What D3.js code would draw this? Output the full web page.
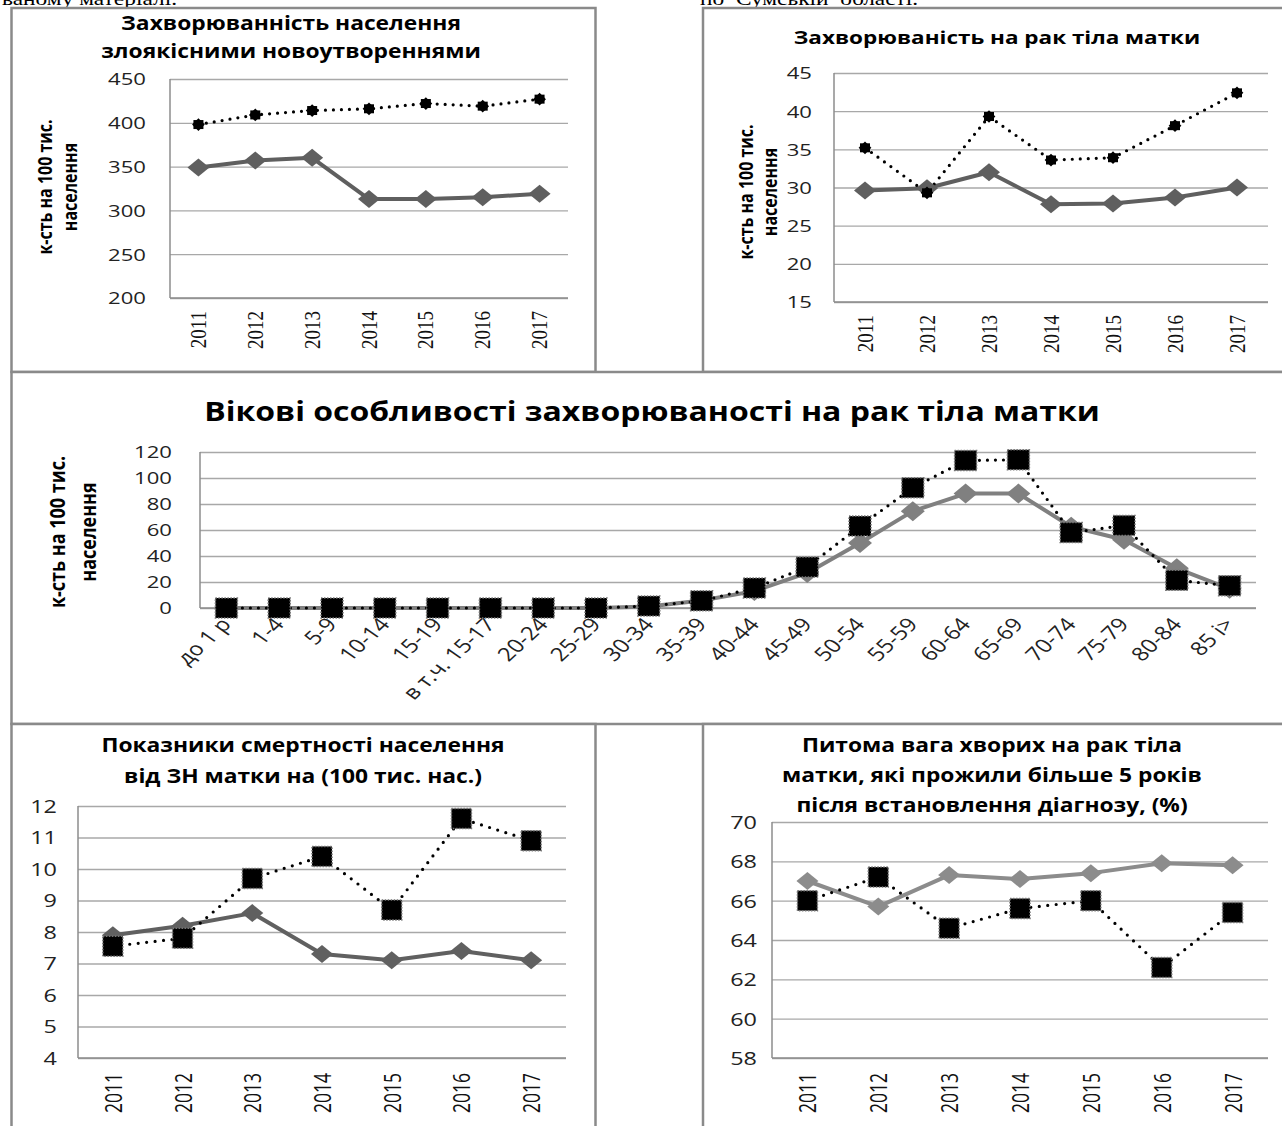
<!DOCTYPE html>
<html><head><meta charset="utf-8">
<script src="https://cdn.jsdelivr.net/npm/d3@7/dist/d3.min.js"></script>
<style>body{margin:0;background:#fff}svg{display:block}</style>
</head><body>
<script>
// ---------- DATA ----------
const years = ["2011","2012","2013","2014","2015","2016","2017"];
const totalIncDotted = [398,409,414,416,422,419,427];
const totalIncSolid  = [349,357,360,313,313,315,319];
const totalTicks = [200,250,300,350,400,450];

const uterusIncDotted = [35.2,29.3,39.3,33.6,33.9,38.1,42.4];
const uterusIncSolid  = [29.6,29.9,32.0,27.8,27.9,28.7,30.0];
const uterusTicks = [15,20,25,30,35,40,45];

const ageGroups = ["до 1 р","1-4","5-9","10-14","15-19","в т.ч. 15-17","20-24","25-29","30-34","35-39","40-44","45-49","50-54","55-59","60-64","65-69","70-74","75-79","80-84","85 і>"];
const ageDotted = [0,0,0,0,0,0,0,0,1.5,5.5,15.4,31.5,63,92.5,113.5,114,58,63.5,21.3,17.2];
const ageSolid  = [0,0,0,0,0,0,0,0,1.2,5.8,13,27,50,74.5,88,88,62.5,52.5,30.5,14.8];
const ageTicks = [0,20,40,60,80,100,120];

const mortDotted = [7.55,7.8,9.7,10.4,8.7,11.6,10.9];
const mortSolid  = [7.9,8.2,8.6,7.3,7.1,7.4,7.1];
const mortTicks = [4,5,6,7,8,9,10,11,12];

const survSolid  = [67.0,65.7,67.3,67.1,67.4,67.9,67.8];
const survDotted = [66.0,67.2,64.6,65.6,66.0,62.6,65.4];
const survTicks = [58,60,62,64,66,68,70];

// ---------- DRAWING ----------
const W = 1282, H = 1126;
const SX = 1.25;
const SANS = "'Open Sans', 'Noto Sans', sans-serif";
const SERIF = "'Liberation Serif', 'Times New Roman', serif";
const svg = d3.select("body").append("svg").attr("width", W).attr("height", H);

function htext(g, x, y, str, o) {
  o = o || {};
  return g.append("text")
    .attr("transform", `translate(${x},${y}) scale(${o.sx || SX},1)` + (o.rot ? ` rotate(${o.rot})` : ""))
    .attr("text-anchor", o.anchor || "middle")
    .attr("dominant-baseline", o.baseline || "alphabetic")
    .attr("font-family", o.family || SANS)
    .attr("font-size", o.size || 16)
    .attr("font-weight", o.weight || "normal")
    .attr("fill", o.fill || "#000")
    .attr("xml:space", "preserve")
    .text(str);
}

// page text fragments above charts (cut by the top edge, as in the source page)
htext(svg, 2, 5, "ваному матеріалі.", {anchor: "start", family: SERIF, size: 18, sx: 1.3});
htext(svg, 700, 5, "по  Сумській  області.", {anchor: "start", family: SERIF, size: 18, sx: 1.3});

function chart(o) {
  const g = svg.append("g");
  g.append("rect").attr("x", o.box[0]).attr("y", o.box[1]).attr("width", o.box[2]).attr("height", o.box[3])
    .attr("fill", "#fff").attr("stroke", "#8a8a8a").attr("stroke-width", 2.5);

  const x = d3.scaleBand().domain(o.cats).range([o.plot.l, o.plot.r]);
  const y = d3.scaleLinear().domain([o.ticks[0], o.ticks[o.ticks.length - 1]]).range([o.plot.b, o.plot.t]);
  const cx = c => x(c) + x.bandwidth() / 2;

  // gridlines
  const ga = g.append("g").attr("transform", `translate(${o.plot.l},0)`)
    .call(d3.axisLeft(y).tickValues(o.ticks).tickSize(-(o.plot.r - o.plot.l)).tickFormat(""));
  ga.select(".domain").remove();
  ga.selectAll("line").attr("stroke", "#a8a8a8").attr("stroke-width", 1.3);

  // axis lines
  g.append("line").attr("x1", o.plot.l).attr("x2", o.plot.l).attr("y1", o.plot.t).attr("y2", o.plot.b)
    .attr("stroke", "#8c8c8c").attr("stroke-width", 1.5);
  g.append("line").attr("x1", o.plot.l).attr("x2", o.plot.r).attr("y1", o.plot.b).attr("y2", o.plot.b)
    .attr("stroke", "#8c8c8c").attr("stroke-width", 1.5);

  // y labels
  o.ticks.forEach(v => htext(g, o.yLabelX, y(v), String(v), {anchor: "end", baseline: "central", size: o.yFont, fill: "#222", sx: o.ySX || 1.3}));

  // x labels
  o.cats.forEach(c => {
    if (o.xRot === -45) {
      htext(g, cx(c) + 6, o.xLabelY, c, {anchor: "end", rot: -49, size: o.xFont, fill: "#222", sx: 1.25});
    } else {
      htext(g, cx(c), o.xLabelY, c, {anchor: "end", baseline: "central", rot: -90, family: o.xFamily, size: o.xFont, fill: "#111", sx: o.xSX});
    }
  });

  // title
  o.title.forEach(t => htext(g, o.titleX, t[1], t[0], {size: o.titleFont, weight: "bold", sx: o.titleSX || SX}));
  // y title
  if (o.yTitle) o.yTitle.forEach(t => htext(g, t[1], o.yTitleY, t[0], {rot: -90, baseline: "central", size: o.yTitleFont, weight: "bold", sx: 1.2}));

  // series
  const line = d3.line().x((d, i) => cx(o.cats[i])).y(d => y(d));
  o.series.forEach(s => {
    const p = g.append("path").datum(s.values).attr("d", line).attr("fill", "none");
    if (s.dotted) p.attr("stroke", "#000").attr("stroke-width", s.lw || 3.5).attr("stroke-dasharray", `0 ${s.gap || 8.5}`).attr("stroke-linecap", "round");
    else p.attr("stroke", s.color).attr("stroke-width", s.lw || 4).attr("stroke-linejoin", "round");
  });
  o.series.forEach(s => {
    const mg = g.append("g");
    s.values.forEach((v, i) => {
      const px = cx(o.cats[i]), py = y(v);
      if (s.marker === "diamond") {
        const hw = s.mw, hh = s.mh;
        mg.append("path").attr("d", `M${px},${py - hh}L${px + hw},${py}L${px},${py + hh}L${px - hw},${py}Z`).attr("fill", s.color);
      } else if (s.marker === "square") {
        mg.append("rect").attr("x", px - s.mw).attr("y", py - s.mh).attr("width", 2 * s.mw).attr("height", 2 * s.mh)
          .attr("fill", "#000").attr("stroke", "#777").attr("stroke-width", 1.5).attr("stroke-dasharray", "1.5 1.5");
      } else if (s.marker === "burst") {
        mg.append("rect").attr("x", px - 5).attr("y", py - 4.5).attr("width", 10).attr("height", 9).attr("fill", "#000");
        mg.append("rect").attr("x", -4.5).attr("y", -4.5).attr("width", 9).attr("height", 9)
          .attr("transform", `translate(${px},${py}) rotate(45)`).attr("fill", "#000");
      }
    });
  });
}

// Chart 1
chart({
  box: [11.5, 8, 584, 364], plot: {l: 170, r: 568, t: 79, b: 298},
  cats: years, ticks: totalTicks, yLabelX: 146, yFont: 17, ySX: 1.3,
  xLabelY: 311, xFamily: SERIF, xFont: 19, xSX: 1.2,
  title: [["Захворюванність населення", 30], ["злоякісними новоутвореннями", 58]], titleX: 291, titleFont: 19, titleSX: 1.2,
  yTitle: [["к-сть на 100 тис.", 44], ["населення", 69]], yTitleY: 187, yTitleFont: 16,
  series: [
    {values: totalIncSolid, color: "#5f5f5f", marker: "diamond", mw: 11, mh: 9},
    {values: totalIncDotted, dotted: true, marker: "burst", lw: 3.2, gap: 8}
  ]
});

// Chart 2
chart({
  box: [703, 8, 600, 364], plot: {l: 834, r: 1268, t: 73, b: 302},
  cats: years, ticks: uterusTicks, yLabelX: 812, yFont: 17, ySX: 1.3,
  xLabelY: 315, xFamily: SERIF, xFont: 19, xSX: 1.2,
  title: [["Захворюваність на рак тіла матки", 44]], titleX: 997, titleFont: 18, titleSX: 1.25,
  yTitle: [["к-сть на 100 тис.", 745], ["населення", 769]], yTitleY: 192, yTitleFont: 16,
  series: [
    {values: uterusIncSolid, color: "#5f5f5f", marker: "diamond", mw: 11, mh: 9},
    {values: uterusIncDotted, dotted: true, marker: "burst", lw: 3.2, gap: 8}
  ]
});

// Chart 3
chart({
  box: [11.5, 372, 1300, 352], plot: {l: 200, r: 1256, t: 452, b: 608},
  cats: ageGroups, ticks: ageTicks, yLabelX: 172, yFont: 17, ySX: 1.3,
  xLabelY: 625, xRot: -45, xFont: 19,
  title: [["Вікові особливості захворюваності на рак тіла матки", 421]], titleX: 652, titleFont: 26, titleSX: 1.23,
  yTitle: [["к-сть на 100 тис.", 57], ["населення", 88]], yTitleY: 532, yTitleFont: 18,
  series: [
    {values: ageSolid, color: "#808080", marker: "diamond", mw: 12, mh: 10},
    {values: ageDotted, dotted: true, marker: "square", mw: 11, mh: 10, lw: 3.2, gap: 8}
  ]
});

// Chart 4
chart({
  box: [11.5, 724, 584, 420], plot: {l: 78, r: 566, t: 806, b: 1058},
  cats: years, ticks: mortTicks, yLabelX: 57, yFont: 18, ySX: 1.3,
  xLabelY: 1073, xFamily: SANS, xFont: 17.5, xSX: 1.3,
  title: [["Показники смертності населення", 752], ["від ЗН матки на (100 тис. нас.)", 783]], titleX: 303, titleFont: 19, titleSX: 1.2,
  series: [
    {values: mortSolid, color: "#606060", marker: "diamond", mw: 11, mh: 9},
    {values: mortDotted, dotted: true, marker: "square", mw: 10, mh: 10, lw: 3.2, gap: 8.5}
  ]
});

// Chart 5
chart({
  box: [703, 724, 600, 420], plot: {l: 772, r: 1268, t: 822, b: 1058},
  cats: years, ticks: survTicks, yLabelX: 757, yFont: 18, ySX: 1.3,
  xLabelY: 1073, xFamily: SANS, xFont: 17.5, xSX: 1.3,
  title: [["Питома вага хворих на рак тіла", 752], ["матки, які прожили більше 5 років", 782], ["після встановлення діагнозу, (%)", 812]], titleX: 992, titleFont: 19, titleSX: 1.2,
  series: [
    {values: survSolid, color: "#8c8c8c", marker: "diamond", mw: 11, mh: 9},
    {values: survDotted, dotted: true, marker: "square", mw: 10, mh: 10, lw: 3.2, gap: 8.5}
  ]
});
</script>
</body></html>
